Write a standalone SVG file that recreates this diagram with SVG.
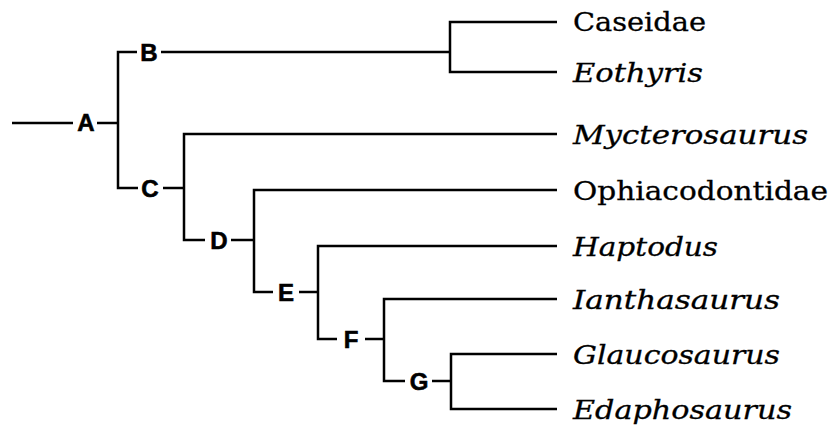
<svg xmlns="http://www.w3.org/2000/svg" width="831" height="428" viewBox="0 0 831 428">
<style>
.edge{fill:none;stroke:#000;stroke-width:2.5;stroke-linecap:butt;stroke-linejoin:miter}
.lbl{font-family:"Liberation Sans",Arial,sans-serif;font-weight:bold;font-size:24px;fill:#000;stroke:#000;stroke-width:0.6;text-anchor:middle}
.taxon{font-family:"DejaVu Serif","Liberation Serif",serif;font-size:26px;fill:#000;stroke:#000;stroke-width:0.3}
.it{font-style:italic}
</style>
<rect width="831" height="428" fill="#fff"/>
<g id="connectors">
<path class="edge" d="M12,123 H73"/>
<path class="edge" d="M97,123 H118"/>
<path class="edge" d="M137,52 H118 V188 H138"/>
<path class="edge" d="M161,52 H450"/>
<path class="edge" d="M557,22 H450 V72 H557"/>
<path class="edge" d="M163,188 H184"/>
<path class="edge" d="M557,134 H184 V240 H205"/>
<path class="edge" d="M231,240 H254"/>
<path class="edge" d="M557,190 H254 V292 H273"/>
<path class="edge" d="M299,292 H318"/>
<path class="edge" d="M557,246 H318 V339 H337"/>
<path class="edge" d="M365,339 H384"/>
<path class="edge" d="M557,299 H384 V381 H405"/>
<path class="edge" d="M432,381 H451"/>
<path class="edge" d="M557,354 H451 V409 H557"/>
</g>
<g id="node-A"><text class="lbl" x="86" y="131">A</text></g>
<g id="node-B"><text class="lbl" x="149" y="61">B</text></g>
<g id="node-C"><text class="lbl" x="150" y="197">C</text></g>
<g id="node-D"><text class="lbl" x="219" y="249">D</text></g>
<g id="node-E"><text class="lbl" x="286" y="301">E</text></g>
<g id="node-F"><text class="lbl" x="351" y="348">F</text></g>
<g id="node-G"><text class="lbl" x="419" y="390">G</text></g>
<g id="taxon-caseidae"><text class="taxon" x="573" y="31" textLength="133" lengthAdjust="spacingAndGlyphs">Caseidae</text></g>
<g id="taxon-eothyris"><text class="taxon it" x="573" y="82" textLength="130" lengthAdjust="spacingAndGlyphs">Eothyris</text></g>
<g id="taxon-mycterosaurus"><text class="taxon it" x="573" y="144" textLength="235" lengthAdjust="spacingAndGlyphs">Mycterosaurus</text></g>
<g id="taxon-ophiacodontidae"><text class="taxon" x="573" y="200" textLength="255" lengthAdjust="spacingAndGlyphs">Ophiacodontidae</text></g>
<g id="taxon-haptodus"><text class="taxon it" x="573" y="256" textLength="145" lengthAdjust="spacingAndGlyphs">Haptodus</text></g>
<g id="taxon-ianthasaurus"><text class="taxon it" x="573" y="309" textLength="207" lengthAdjust="spacingAndGlyphs">Ianthasaurus</text></g>
<g id="taxon-glaucosaurus"><text class="taxon it" x="573" y="364" textLength="207" lengthAdjust="spacingAndGlyphs">Glaucosaurus</text></g>
<g id="taxon-edaphosaurus"><text class="taxon it" x="573" y="419" textLength="219" lengthAdjust="spacingAndGlyphs">Edaphosaurus</text></g>
</svg>
